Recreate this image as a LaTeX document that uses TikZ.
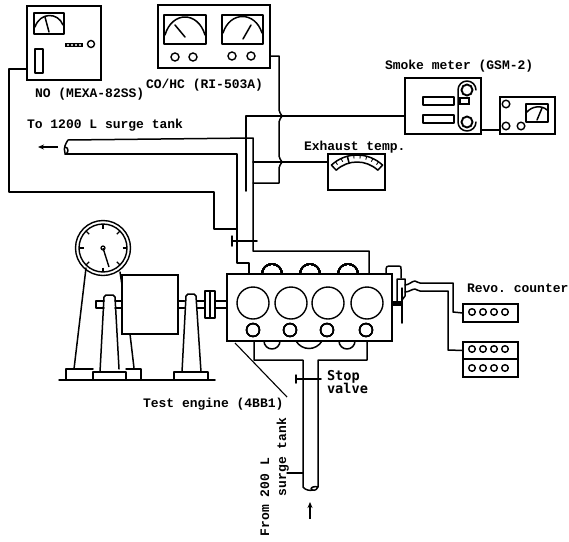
\documentclass[tikz,border=0pt]{standalone}
\usepackage{fontspec}
\setmonofont{Liberation Mono}
\newfontfamily\heavyfont{DejaVu Sans Mono}
\usetikzlibrary{arrows.meta}
\tikzset{
  ln/.style={line width=1.5pt,line join=round,line cap=round},
  inst/.style={draw,line width=1.5pt,rectangle,inner sep=0pt,outer sep=0pt},
  lbl/.style={font=\ttfamily\bfseries\fontsize{13}{13}\selectfont,inner sep=0pt,outer sep=0pt,anchor=base west},
  blbl/.style={font=\heavyfont\bfseries\fontsize{13.6}{13.6}\selectfont,inner sep=0pt,outer sep=0pt,anchor=base west},
  dial/.style={draw,line width=1.4pt,circle,inner sep=0pt,outer sep=0pt},
  pipearrow/.style={-{Stealth[length=6pt,width=5pt]},line width=1.6pt},
}
\newcommand\instr[5]{\node[inst,minimum width={(#4-#2)*1pt},minimum height={(#5-#3)*1pt}] (#1) at ({(#2+#4)/2},{(#3+#5)/2}) {};}
\newcommand\knob[3]{\node[dial,minimum size={2*#3*1pt}] at (#1,#2) {};}
\begin{document}
\begin{tikzpicture}[x=1pt,y=-1pt]
\useasboundingbox (0,0) rectangle (569,541);
% instruments
\instr{no}{27}{6}{101}{80}
\instr{cohc}{158}{5}{270}{68}
\instr{smoke}{405}{78}{481}{134}
\instr{gauge}{500}{97}{555}{134}
\instr{exh}{328}{154}{385}{190}
\instr{engine}{227}{274}{392}{341}
\instr{revo}{463}{304}{518}{322}
\instr{ctra}{463}{342}{518}{359}
\instr{ctrb}{463}{359}{518}{377}
% NO analyser face
\draw[ln] (34,13) rectangle (64,34);
\draw[ln] (35,27) .. controls (40,12) and (58,12) .. (63,25);
\draw[ln] (45,17) -- (49,32);
\fill (65,43) rectangle (83,47);
\foreach \x in {68,72,76,80} \fill[white] (\x,45) circle[radius=1.2pt];
\knob{91}{44}{3.5}
\draw[ln] (35,49) rectangle (43,73);
% CO/HC face
\draw[ln] (164,15) rectangle (206,44);
\draw[ln] (222,15) rectangle (263,44);
\draw[ln] (165,35) .. controls (172,11) and (198,11) .. (205,35);
\draw[ln] (223,33) .. controls (230,11) and (255,11) .. (262,33);
\draw[ln] (175,25) -- (185,37);
\draw[ln] (251,25) -- (243,39);
\knob{175}{57}{4}\knob{193}{57}{4}\knob{232}{56}{4}\knob{251}{56}{4}
% smoke meter face
\draw[ln] (423,97) rectangle (454,105);
\draw[ln] (423,115) rectangle (454,123);
\draw[ln] (476,90) arc[start angle=0,end angle=180,radius=9pt] -- (458,122) arc[start angle=180,end angle=360,radius=9pt];
\draw[line width=1.9pt] (467,90) circle[radius=5.5pt];
\draw[line width=1.9pt] (467,122) circle[radius=5.5pt];
\draw[inst] (460,98) rectangle (469,104);
% gauge face
\knob{506}{104}{3.8}\knob{506}{126}{3.8}\knob{521}{126}{3.8}
\draw[ln] (526,104) rectangle (548,122);
\draw[ln] (527,112) .. controls (532,106) and (542,105) .. (547,110);
\draw[ln] (537,120) -- (542,108);
% exhaust gauge face
\coordinate (scalec) at (357,192.5);
\draw[ln] ([shift={(47:37.5pt)}]scalec) arc[start angle=47,end angle=133,radius=37.5pt]
  -- ([shift={(133:30.5pt)}]scalec) arc[start angle=133,end angle=47,radius=30.5pt] -- cycle;
\foreach \a in {55,65,...,125} \draw[line width=.9pt] ([shift={(\a:34pt)}]scalec) -- ([shift={(\a:37.5pt)}]scalec);
\draw[ln] ([shift={(105:30.5pt)}]scalec) -- ([shift={(105:37.5pt)}]scalec);
% engine detail
\foreach \x in {253,291,328,367} \knob{\x}{303}{16}
\foreach \x in {253,290,327,366} \knob{\x}{330}{6.5}
\foreach \x in {272,310,348} \draw[ln] (\x-10,274) arc[start angle=180,end angle=0,radius=10pt];
\draw[ln] (264,341) arc[start angle=180,end angle=360,radius=8pt];
\draw[ln] (339,341) arc[start angle=180,end angle=360,radius=8pt];
\draw[ln] (296,341) .. controls (302,351) and (316,351) .. (322,341);
% dynamometer
\node[draw,line width=1.4pt,circle,inner sep=0pt,outer sep=0pt,minimum size=55pt] (clock) at (103,248) {};
\draw[line width=1.4pt] (103,248) circle[radius=24pt];
\foreach \a in {0,45,...,315} \draw[line width=1.2pt] ([shift={(\a:19.5pt)}]clock.center) -- ([shift={(\a:24pt)}]clock.center);
\draw[line width=1.2pt] (103,248) circle[radius=2pt];
\draw[line width=1.4pt] (103,248) -- (109,267);
\draw[ln] (86,268) -- (74,369);
\draw[ln] (120,272) -- (122,285);
\draw[ln] (130,334) -- (134,368);
\draw[ln] (66,379) |- (93,369);
\draw[ln] (126,369) -| (141,379);
\draw[inst] (122,275) rectangle (178,334);
\draw[ln] (100,372) -- (104,297) -- (106,295) -- (113,295) -- (115,297) -- (119,369) ;
\draw[ln] (93,379) |- (126,372) -- (126,379);
\draw[ln] (104,301) -- (96,301) -- (96,308) -- (104,308);
\draw[ln] (115,301) -- (122,301) (115,308) -- (122,308);
\draw[ln] (178,301) -- (184.5,301) (178,308) -- (184.5,308);
\draw[ln] (182,372) -- (186,296) -- (188,294) -- (194,294) -- (196,296) -- (201,372);
\draw[ln] (174,379) |- (208,372) -- (208,379);
\draw[ln] (197,301) -- (205,301) (197,308) -- (205,308);
\draw[ln] (205,291) rectangle (215,318);
\draw[ln] (210,291) -- (210,318);
\draw[ln] (215,301) -- (227,301) (215,308) -- (227,308);
\draw[ln] (59,380) -- (215,380);
% connectors
\coordinate (nojoin) at (237,229);
\draw[ln] (no.west |- 0,69) -- (9,69) -- (9,192) -- (214,192) -- (214,229) -- (nojoin);
\draw[ln] (cohc.east |- 0,56) -- (279,56) -- (279,110) .. controls (279,112) and (281,114) .. (282,116) .. controls (281,118) and (279,120) .. (279,122) -- (279,156) .. controls (279,158) and (281,160) .. (282,162) .. controls (281,164) and (279,166) .. (279,168) -- (279,183) -- (253,183);
\draw[ln] (246,191) -- (246,116) -- (smoke.west |- 0,116);
\draw[ln] (253,162) -- (exh.west |- 0,162);
\draw[ln] (smoke.east |- 0,130) -- (gauge.west |- 0,130);
% exhaust pipe
\draw[ln] (65,153) .. controls (63,148) and (66,143) .. (68,140) -- (253,138) -- (253,251) -- (369,251) -- (369,251 |- engine.north);
\draw[ln] (65,154) -- (237,154) -- (237,263) -- (249,263) -- (249,263 |- engine.north);
\draw[ln] (65,154) .. controls (69,154) and (69,147) .. (65,147);
\draw[line width=1.9pt] (246,120) -- (246,191);
\draw[ln] (232,241) -- (257,241);
\draw[ln] (232,236) -- (232,246);
\draw[pipearrow] (58,147) -- (38,147);
% intake pipe
\draw[ln] (254,341) -- (254,360) -- (303,360) -- (303,487) .. controls (305,490) and (310,491) .. (313,490);
\draw[ln] (367,341) -- (367,360) -- (318,360) -- (318,487) .. controls (316,491) and (313,491) .. (311,489) .. controls (311,487) and (315,486) .. (318,487);
\draw[ln] (296,379) -- (321,379);
\draw[ln] (296,375) -- (296,383);
\draw[pipearrow] (310,519) -- (310,502);
\draw[ln] (287,473) -- (303,473);
\draw[line width=1.1pt] (235,343) -- (287,397);
% revo counter sensor
\draw[ln] (386,274) -- (386,269) .. controls (386,267) and (387,266) .. (389,266) -- (399,266) .. controls (401,266) and (401,267) .. (401,269) -- (401,278);
\draw[ln] (397,303) -- (397,279) -- (405,279) -- (405,296) -- (402,300);
\fill (392,301) rectangle (402,306);
\draw[ln] (402,288) -- (402,323);
\draw[ln] (405,285) .. controls (409,285) and (412,281) .. (415,281) .. controls (417,281) and (417,283) .. (420,283) -- (453,283) -- (453,312) -- (revo.west);
\draw[ln] (405,292) .. controls (409,292) and (412,289) .. (415,289) .. controls (417,289) and (417,291) .. (420,291) -- (448,291) -- (448,350) -- (ctra.west);
\foreach \x in {472,483,494,505} {\knob{\x}{312}{3.3}\knob{\x}{349}{3.3}\knob{\x}{368}{3.3}}
% labels
\node[lbl] (tno) at (35,97) {NO (MEXA-82SS)};
\node[lbl] (tco) at (146,88) {CO/HC (RI-503A)};
\node[lbl] (tto) at (27,128) {To 1200 L surge tank};
\node[lbl] (tsm) at (385,69) {Smoke meter (GSM-2)};
\node[lbl] (tex) at (304,150) {Exhaust temp.};
\node[lbl] (trv) at (467,292) {Revo. counter};
\node[lbl] (ten) at (143,407) {Test engine (4BB1)};
\node[blbl] (tst) at (327,380) {Stop};
\node[blbl] (tva) at (327,393) {valve};
\node[lbl,rotate=90] (tfr) at (269,536) {From 200 L};
\node[lbl,rotate=90] (tsu) at (286,496) {surge tank};
\end{tikzpicture}
\end{document}
